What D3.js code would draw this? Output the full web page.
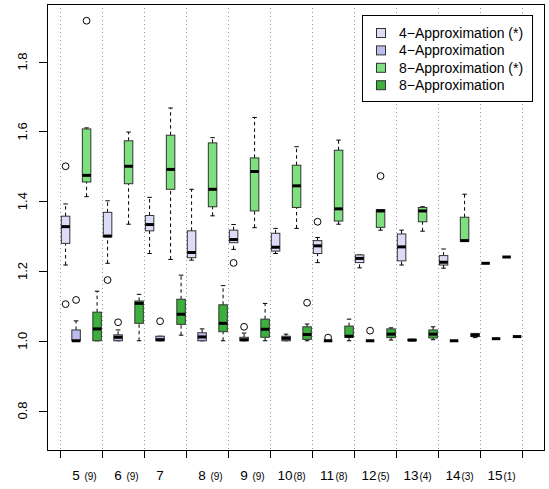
<!DOCTYPE html>
<html lang="en">
<head>
    <meta charset="UTF-8">
    <title>Approximation boxplots</title>
    <style>
        body { margin: 0; background: #fff; }
        text { font-family: "Liberation Sans", Arial, sans-serif; fill: #000; }
        .grid { stroke: #999; stroke-dasharray: 1,3; }
        .whisker { stroke: #000; stroke-dasharray: 3.5,3; }
        .cap, .median { stroke: #000; }
        .box { stroke: #333; stroke-width: 1; }
        .outlier { fill: none; stroke: #000; stroke-width: 1; }
    </style>
</head>
<body>
<svg width="549" height="489"></svg>
<script src="https://d3js.org/d3.v7.min.js"></script>
<script>
  // group labels along the x axis
  var groups = ["5", "6", "7", "8", "9", "10", "11", "12", "13", "14", "15"];
  var counts = ["(9)", "(9)", "", "(9)", "(9)", "(8)", "(8)", "(5)", "(4)", "(3)", "(1)"];

  // [whisker low, q1, median, q3, whisker high] per group
  var approx4Star = [
    [1.217, 1.279, 1.327, 1.357, 1.392],
    [1.222, 1.298, 1.300, 1.368, 1.401],
    [1.250, 1.315, 1.333, 1.359, 1.411],
    [1.231, 1.238, 1.253, 1.315, 1.434],
    [1.262, 1.281, 1.290, 1.317, 1.333],
    [1.250, 1.257, 1.268, 1.308, 1.322],
    [1.224, 1.250, 1.272, 1.287, 1.296],
    [1.209, 1.224, 1.236, 1.246, 1.246],
    [1.217, 1.229, 1.269, 1.306, 1.317],
    [1.208, 1.217, 1.225, 1.244, 1.263],
    [1.222, 1.222, 1.222, 1.222, 1.222]
  ];
  var approx4 = [
    [1.000, 1.000, 1.000, 1.031, 1.057],
    [1.000, 1.000, 1.010, 1.017, 1.031],
    [1.000, 1.000, 1.003, 1.013, 1.013],
    [1.000, 1.000, 1.011, 1.023, 1.034],
    [1.000, 1.000, 1.003, 1.010, 1.022],
    [1.000, 1.000, 1.007, 1.013, 1.019],
    [1.000, 1.000, 1.000, 1.000, 1.000],
    [1.000, 1.000, 1.000, 1.000, 1.000],
    [1.000, 1.000, 1.002, 1.004, 1.004],
    [1.000, 1.000, 1.000, 1.000, 1.000],
    [1.006, 1.006, 1.006, 1.006, 1.006]
  ];
  var approx8Star = [
    [1.413, 1.455, 1.474, 1.607, 1.610],
    [1.334, 1.450, 1.500, 1.573, 1.598],
    [1.233, 1.434, 1.491, 1.589, 1.667],
    [1.358, 1.384, 1.434, 1.567, 1.582],
    [1.324, 1.372, 1.485, 1.524, 1.640],
    [1.322, 1.382, 1.444, 1.503, 1.556],
    [1.334, 1.343, 1.378, 1.546, 1.575],
    [1.317, 1.325, 1.372, 1.376, 1.376],
    [1.314, 1.341, 1.372, 1.382, 1.384],
    [1.285, 1.285, 1.287, 1.354, 1.420],
    [1.240, 1.240, 1.240, 1.240, 1.240]
  ];
  var approx8 = [
    [1.000, 1.000, 1.034, 1.082, 1.142],
    [1.000, 1.050, 1.107, 1.114, 1.133],
    [1.016, 1.047, 1.076, 1.119, 1.188],
    [1.000, 1.026, 1.050, 1.103, 1.158],
    [1.000, 1.010, 1.033, 1.062, 1.107],
    [1.000, 1.004, 1.018, 1.040, 1.048],
    [1.000, 1.010, 1.013, 1.042, 1.062],
    [1.002, 1.009, 1.019, 1.034, 1.037],
    [1.003, 1.008, 1.019, 1.031, 1.040],
    [1.009, 1.012, 1.016, 1.021, 1.021],
    [1.012, 1.012, 1.012, 1.012, 1.012]
  ];

  // outliers as [group index, value]
  var approx4StarOut = [[0, 1.500], [0, 1.105], [1, 1.174], [4, 1.223], [6, 1.341]];
  var approx4Out = [[0, 1.117], [1, 1.053], [2, 1.056], [4, 1.040], [6, 1.009], [7, 1.029]];
  var approx8StarOut = [[0, 1.917], [7, 1.472]];
  var approx8Out = [[5, 1.109]];

  var seriesNames = ["4\u2212Approximation (*)", "4\u2212Approximation", "8\u2212Approximation (*)", "8\u2212Approximation"];
  var seriesColors = ["#dcdcf8", "#bcbcec", "#7ddf7d", "#3cb03c"];
  var seriesStats = [approx4Star, approx4, approx8Star, approx8];
  var seriesOut = [approx4StarOut, approx4Out, approx8StarOut, approx8Out];

  var yTicks = [0.8, 1.0, 1.2, 1.4, 1.6, 1.8];

  var svg = d3.select("svg");
  var plotL = 47, plotR = 545, plotT = 4, plotB = 450;

  // box positions run 1..44, group boundaries at 0.5, 4.5, ...
  var x = d3.scaleLinear().domain([-0.77, 46.66]).range([plotL, plotR]);
  var y = d3.scaleLinear().domain([0.687, 1.965]).range([plotB, plotT]);

  var boundaries = d3.range(groups.length + 1).map(function (g) { return g * 4 + 0.5; });

  // dotted separators
  svg.selectAll(".grid")
    .data(boundaries)
    .enter().append("line")
    .attr("class", "grid")
    .attr("x1", function (d) { return Math.round(x(d)) + 0.5; })
    .attr("x2", function (d) { return Math.round(x(d)) + 0.5; })
    .attr("y1", plotT).attr("y2", plotB);

  var boxW = 8.5;
  var capW = 4.5;

  seriesStats.forEach(function (stats, s) {
    var g = svg.append("g");
    var items = stats.map(function (st, i) { return { pos: i * 4 + s + 1, st: st }; });

    var b = g.selectAll(".bp").data(items).enter().append("g");

    b.append("line").attr("class", "whisker")
      .attr("x1", function (d) { return x(d.pos); })
      .attr("x2", function (d) { return x(d.pos); })
      .attr("y1", function (d) { return y(d.st[0]); })
      .attr("y2", function (d) { return y(d.st[1]); })
      .style("display", function (d) { return d.st[0] === d.st[1] ? "none" : null; });
    b.append("line").attr("class", "whisker")
      .attr("x1", function (d) { return x(d.pos); })
      .attr("x2", function (d) { return x(d.pos); })
      .attr("y1", function (d) { return y(d.st[3]); })
      .attr("y2", function (d) { return y(d.st[4]); })
      .style("display", function (d) { return d.st[3] === d.st[4] ? "none" : null; });

    [0, 4].forEach(function (k) {
      b.append("line").attr("class", "cap")
        .attr("x1", function (d) { return x(d.pos) - capW / 2; })
        .attr("x2", function (d) { return x(d.pos) + capW / 2; })
        .attr("y1", function (d) { return y(d.st[k]); })
        .attr("y2", function (d) { return y(d.st[k]); });
    });

    b.append("rect").attr("class", "box")
      .attr("x", function (d) { return x(d.pos) - boxW / 2; })
      .attr("width", boxW)
      .attr("y", function (d) { return y(d.st[3]); })
      .attr("height", function (d) { return y(d.st[1]) - y(d.st[3]); })
      .attr("fill", seriesColors[s]);

    b.append("line").attr("class", "median")
      .attr("stroke-width", 3)
      .attr("x1", function (d) { return x(d.pos) - boxW / 2; })
      .attr("x2", function (d) { return x(d.pos) + boxW / 2; })
      .attr("y1", function (d) { return y(d.st[2]); })
      .attr("y2", function (d) { return y(d.st[2]); });

    g.selectAll(".outlier")
      .data(seriesOut[s])
      .enter().append("circle")
      .attr("class", "outlier")
      .attr("cx", function (d) { return x(d[0] * 4 + s + 1); })
      .attr("cy", function (d) { return y(d[1]); })
      .attr("r", 3.4);
  });

  // frame
  svg.append("rect")
    .attr("x", plotL + 0.5).attr("y", plotT + 0.5)
    .attr("width", plotR - plotL - 1).attr("height", plotB - plotT)
    .attr("fill", "none").attr("stroke", "#000");

  // y axis
  var yAxis = svg.append("g").attr("transform", "translate(" + plotL + ",0)");
  yAxis.selectAll("line")
    .data(yTicks).enter().append("line")
    .attr("x1", -8).attr("x2", 0)
    .attr("y1", function (d) { return Math.round(y(d)) + 0.5; })
    .attr("y2", function (d) { return Math.round(y(d)) + 0.5; })
    .attr("stroke", "#000");
  yAxis.selectAll("text")
    .data(yTicks).enter().append("text")
    .attr("transform", function (d) { return "translate(-20," + y(d) + ") rotate(-90)"; })
    .attr("text-anchor", "middle")
    .style("font-size", "13px")
    .text(function (d) { return d3.format(".1f")(d); });

  // x axis ticks and two-part labels
  var xAxis = svg.append("g").attr("transform", "translate(0," + plotB + ")");
  xAxis.selectAll("line")
    .data(boundaries).enter().append("line")
    .attr("x1", function (d) { return Math.round(x(d)) + 0.5; })
    .attr("x2", function (d) { return Math.round(x(d)) + 0.5; })
    .attr("y1", 0).attr("y2", 8)
    .attr("stroke", "#000");

  var lab = xAxis.selectAll(".lab")
    .data(groups).enter().append("g");
  lab.append("text")
    .attr("x", function (d, i) { return x(i * 4 + 2.5) - (groups[i].length > 1 ? 6.3 : 5.3); })
    .attr("y", 30)
    .attr("text-anchor", "middle")
    .style("font-size", "13.5px")
    .text(function (d) { return d; });
  lab.append("text")
    .attr("x", function (d, i) { return x(i * 4 + 2.5) + (groups[i].length > 1 ? 8.2 : 9.2); })
    .attr("y", 30)
    .attr("text-anchor", "middle")
    .style("font-size", "10px")
    .text(function (d, i) { return counts[i]; });

  // legend
  var legend = svg.append("g").attr("transform", "translate(362,15)");
  legend.append("rect")
    .attr("x", 0.5).attr("y", 0.5)
    .attr("width", 170).attr("height", 86)
    .attr("fill", "#fff").attr("stroke", "#000");
  var rows = legend.selectAll(".row")
    .data(seriesNames).enter().append("g")
    .attr("transform", function (d, i) { return "translate(0," + (18 + i * 17.4) + ")"; });
  rows.append("rect")
    .attr("x", 14.5).attr("y", -4.5)
    .attr("width", 9).attr("height", 9)
    .attr("fill", function (d, i) { return seriesColors[i]; })
    .attr("stroke", "#333");
  rows.append("text")
    .attr("x", 37).attr("y", 5)
    .style("font-size", "14px")
    .text(function (d) { return d; });
</script>
</body>
</html>
